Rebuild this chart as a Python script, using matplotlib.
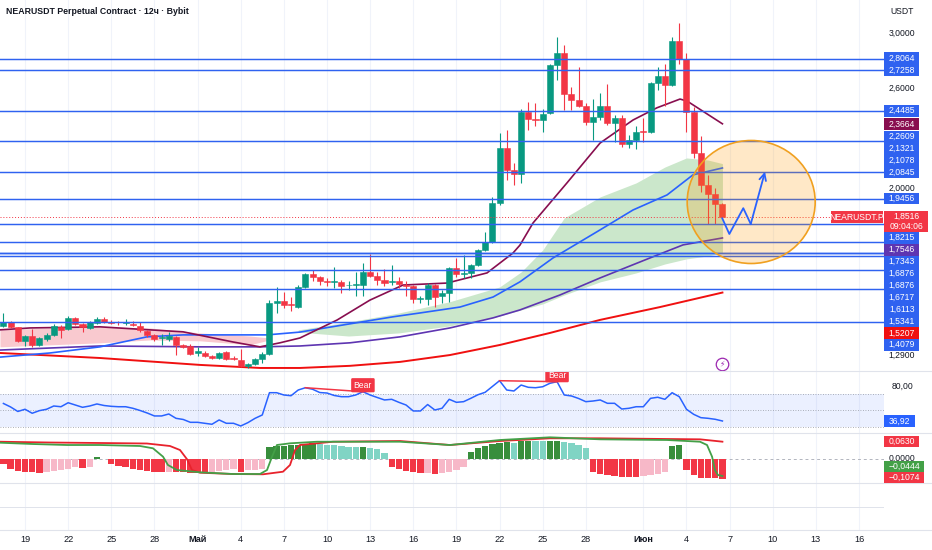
import numpy as np
import matplotlib
matplotlib.use("Agg")
import matplotlib.pyplot as plt
from matplotlib.patches import Rectangle, Ellipse
from matplotlib.lines import Line2D
import matplotlib.transforms as mtransforms

plt.rcParams['font.family'] = ['Liberation Sans', 'DejaVu Sans']

# ------------------------------------------------------------------ data
TITLE = "NEARUSDT Perpetual Contract · 12ч · Bybit"
SYMBOL = "NEARUSDT.P"
COUNTDOWN = "09:04:06"
CURRENCY = "USDT"

# 12h candles, day offsets counted from 19 April (first bar at -1.5)
first_bar_day = -1.5
opens = [1.394, 1.409, 1.388, 1.341, 1.357, 1.327, 1.345, 1.361, 1.391, 1.381,
         1.422, 1.400, 1.385, 1.405, 1.418, 1.409, 1.409, 1.405, 1.402, 1.394,
         1.375, 1.361, 1.350, 1.345, 1.353, 1.325, 1.322, 1.298, 1.298, 1.289,
         1.281, 1.300, 1.281, 1.273, 1.253, 1.262, 1.278, 1.295, 1.480, 1.486,
         1.475, 1.465, 1.544, 1.596, 1.585, 1.566, 1.563, 1.563, 1.550, 1.550,
         1.553, 1.606, 1.589, 1.572, 1.562, 1.569, 1.553, 1.547, 1.494, 1.495,
         1.551, 1.507, 1.520, 1.620, 1.596, 1.602, 1.636, 1.700, 1.737, 1.923,
         2.221, 2.097, 2.075, 2.441, 2.398, 2.390, 2.435, 2.760, 2.847, 2.556,
         2.519, 2.480, 2.378, 2.410, 2.478, 2.370, 2.405, 2.246, 2.268, 2.322,
         2.316, 2.634, 2.680, 2.620, 2.943, 2.807, 2.441, 2.194, 2.015, 1.969,
         1.918]
highs = [1.440, 1.412, 1.390, 1.360, 1.382, 1.352, 1.368, 1.400, 1.395, 1.430,
         1.428, 1.403, 1.412, 1.425, 1.428, 1.415, 1.412, 1.418, 1.410, 1.409,
         1.378, 1.365, 1.365, 1.370, 1.357, 1.330, 1.328, 1.319, 1.305, 1.292,
         1.302, 1.305, 1.289, 1.310, 1.265, 1.282, 1.300, 1.490, 1.541, 1.524,
         1.504, 1.550, 1.600, 1.613, 1.590, 1.579, 1.627, 1.572, 1.566, 1.603,
         1.645, 1.683, 1.606, 1.616, 1.633, 1.585, 1.566, 1.550, 1.507, 1.560,
         1.555, 1.531, 1.625, 1.666, 1.677, 1.640, 1.705, 1.783, 1.955, 2.308,
         2.329, 2.135, 2.462, 2.508, 2.502, 2.462, 2.770, 2.969, 2.909, 2.605,
         2.745, 2.497, 2.524, 2.563, 2.630, 2.420, 2.423, 2.297, 2.350, 2.400,
         2.640, 2.743, 2.770, 2.974, 3.080, 2.850, 2.470, 2.291, 2.070, 2.000,
         1.925]
lows = [1.390, 1.385, 1.335, 1.322, 1.320, 1.322, 1.340, 1.358, 1.350, 1.378,
        1.397, 1.370, 1.382, 1.402, 1.405, 1.400, 1.398, 1.398, 1.392, 1.372,
        1.355, 1.340, 1.327, 1.340, 1.290, 1.315, 1.290, 1.287, 1.285, 1.277,
        1.278, 1.274, 1.275, 1.250, 1.248, 1.258, 1.265, 1.290, 1.440, 1.459,
        1.450, 1.460, 1.540, 1.566, 1.553, 1.547, 1.540, 1.518, 1.531, 1.507,
        1.507, 1.585, 1.553, 1.547, 1.553, 1.540, 1.507, 1.478, 1.478, 1.472,
        1.466, 1.478, 1.484, 1.585, 1.579, 1.579, 1.630, 1.695, 1.730, 1.915,
        2.043, 2.015, 2.025, 2.329, 2.350, 2.318, 2.430, 2.654, 2.454, 2.454,
        2.470, 2.360, 2.271, 2.390, 2.360, 2.255, 2.225, 2.220, 2.215, 2.255,
        2.310, 2.586, 2.480, 2.610, 2.770, 2.318, 2.166, 1.980, 1.820, 1.820,
        1.845]
closes = [1.409, 1.391, 1.341, 1.357, 1.325, 1.349, 1.361, 1.394, 1.379, 1.421,
          1.400, 1.388, 1.407, 1.418, 1.408, 1.405, 1.406, 1.409, 1.395, 1.377,
          1.361, 1.345, 1.353, 1.357, 1.325, 1.319, 1.294, 1.304, 1.289, 1.281,
          1.298, 1.278, 1.278, 1.253, 1.261, 1.278, 1.295, 1.480, 1.486, 1.472,
          1.470, 1.544, 1.596, 1.585, 1.566, 1.563, 1.566, 1.547, 1.553, 1.554,
          1.606, 1.588, 1.572, 1.559, 1.569, 1.556, 1.547, 1.494, 1.498, 1.553,
          1.505, 1.518, 1.620, 1.596, 1.602, 1.636, 1.700, 1.737, 1.923, 2.221,
          2.097, 2.075, 2.441, 2.394, 2.390, 2.430, 2.760, 2.847, 2.556, 2.519,
          2.480, 2.378, 2.410, 2.478, 2.370, 2.405, 2.246, 2.268, 2.316, 2.314,
          2.634, 2.680, 2.620, 2.943, 2.807, 2.441, 2.194, 2.015, 1.969, 1.918,
          1.8516]

# horizontal levels drawn on the chart
levels = [2.8064, 2.7258, 2.4485, 2.2609, 2.0845, 1.9456, 1.8215,
          1.7343, 1.6876, 1.6876, 1.6717, 1.6113, 1.5341, 1.4079]

# moving averages (day offset, price)
maroon_days = [-1.74, 0.35, 5.22, 8.69, 10.99, 14.46, 16.34, 17.73, 19.12, 21.70, 23.99,
               26.29, 29.35, 32.13, 33.94, 34.42, 35.33, 37.69, 39.99, 42.28, 43.95,
               45.55, 46.04, 48.5]
maroon_vals = [1.379, 1.386, 1.390, 1.379, 1.372, 1.336, 1.319, 1.333, 1.350, 1.415, 1.491,
               1.551, 1.559, 1.601, 1.687, 1.722, 1.825, 2.027, 2.250, 2.390, 2.468,
               2.525, 2.512, 2.3664]
blue_days = [-1.74, 1.74, 5.22, 8.48, 10.99, 14.46, 16.83, 19.12, 22.60, 25.59, 27.47,
             30.25, 32.55, 34.42, 36.72, 39.99, 42.28, 44.65, 46.45, 48.5]
blue_vals = [1.284, 1.298, 1.319, 1.354, 1.361, 1.361, 1.361, 1.371, 1.401, 1.427, 1.4415,
             1.464, 1.503, 1.564, 1.665, 1.792, 1.888, 1.964, 2.070, 2.1078]
purple_days = [-1.74, 5.22, 12.17, 16.34, 19.12, 22.60, 26.08, 29.55, 32.55, 34.42,
               37.20, 39.99, 43.46, 45.76, 48.5]
purple_vals = [1.308, 1.322, 1.319, 1.319, 1.322, 1.333, 1.354, 1.386, 1.423, 1.453,
               1.511, 1.580, 1.665, 1.723, 1.7546]
red_days = [-1.74, 5.22, 12.17, 16.34, 19.12, 22.60, 26.08, 29.55, 33.03, 36.51,
            39.99, 44.16, 48.5]
red_vals = [1.298, 1.281, 1.258, 1.248, 1.248, 1.255, 1.268, 1.291, 1.3256, 1.368,
            1.4155, 1.464, 1.5207]

# shaded clouds
pink_days = [-1.74, 1.74, 5.22, 8.69, 12.17, 15.64, 17.0]
pink_upper = [1.379, 1.386, 1.390, 1.386, 1.368, 1.357, 1.350]
pink_lower = [1.319, 1.326, 1.333, 1.343, 1.340, 1.326, 1.343]
green_days = [19.0, 22.5, 26.0, 29.5, 33.0, 34.5, 36.0, 37.5, 40.0, 42.5, 44.5, 46.0, 47.5, 48.5]
green_upper = [1.379, 1.408, 1.4415, 1.484, 1.543, 1.605, 1.700, 1.849, 1.954, 2.027,
               2.113, 2.164, 2.152, 2.1321]
green_lower = [1.371, 1.357, 1.368, 1.393, 1.430, 1.453, 1.476, 1.511, 1.564, 1.601,
               1.639, 1.661, 1.674, 1.687]

# forecast drawing: circle + zig-zag arrow
circle_center = (50.5, 1.928)
path_days = [48.49, 48.98, 49.95, 50.47, 51.46]
path_prices = [1.847, 1.773, 1.897, 1.820, 2.087]

# RSI (one value per bar)
rsi = [58.4, 54.1, 48.6, 51.3, 46.4, 49.6, 51.3, 55.3, 54.4, 59.3,
       56.5, 53.7, 55.3, 57.8, 55.9, 54.9, 54.4, 54.4, 52.5, 49.8,
       46.7, 43.1, 43.1, 45.5, 40.2, 38.8, 35.3, 35.3, 34.1, 32.9,
       38.2, 34.1, 34.1, 30.8, 34.9, 40.2, 44.3, 71.6, 71.6, 68.8,
       67.9, 74.9, 77.7, 75.8, 71.8, 71.2, 68.2, 66.7, 66.7, 68.8,
       72.8, 68.8, 65.7, 62.7, 63.5, 59.8, 56.5, 49.2, 49.2, 57.1,
       50.4, 52.5, 63.5, 59.8, 60.6, 64.7, 69.1, 72.1, 79.2, 86.3,
       74.9, 73.7, 81.0, 78.2, 77.7, 78.9, 83.1, 85.1, 68.8, 67.6,
       64.5, 60.6, 61.4, 62.7, 58.6, 58.6, 51.6, 52.5, 54.4, 54.4,
       64.7, 66.0, 63.5, 71.6, 66.7, 51.3, 45.1, 41.0, 40.2, 39.0,
       36.92]
bear_pairs = [(19.5, 23.5), (33.0, 37.0)]

# MACD-style histogram (one value per bar)
hist = [-0.028, -0.051, -0.066, -0.070, -0.073, -0.075, -0.070, -0.064, -0.060, -0.051,
        -0.045, -0.047, -0.041, 0.015, 0.004, -0.028, -0.036, -0.041, -0.055, -0.060,
        -0.066, -0.070, -0.071, -0.068, -0.070, -0.073, -0.074, -0.075, -0.076, -0.070,
        -0.064, -0.057, -0.051, -0.070, -0.060, -0.057, -0.051, 0.072, 0.075, 0.076,
        0.079, 0.083, 0.087, 0.090, 0.087, 0.083, 0.081, 0.077, 0.072, 0.068,
        0.070, 0.064, 0.056, 0.034, -0.041, -0.055, -0.064, -0.070, -0.075, -0.074,
        -0.080, -0.075, -0.070, -0.060, -0.041, 0.043, 0.062, 0.075, 0.087, 0.094,
        0.100, 0.094, 0.104, 0.105, 0.103, 0.102, 0.104, 0.105, 0.100, 0.090,
        0.081, 0.062, -0.070, -0.079, -0.089, -0.094, -0.098, -0.099, -0.100, -0.094,
        -0.089, -0.083, -0.070, 0.075, 0.079, -0.060, -0.089, -0.102, -0.104, -0.106,
        -0.1074]
# two oscillator lines of the lower pane
osc_red_days = [-1.74, 1.74, 5.22, 8.48, 10.08, 10.78, 11.27, 11.61, 12.17, 14.46, 16.55,
                17.94, 18.43, 18.78, 19.12, 21.42, 26.08, 29.55, 33.03, 36.51, 39.99,
                44.65, 46.94, 48.5]
osc_red = [0.0629, 0.0604, 0.0589, 0.0573, 0.0495, 0.0369, 0.0078, -0.0257, -0.0341,
           -0.0382, -0.0391, -0.0310, -0.0100, 0.0369, 0.0526, 0.0629, 0.0651, 0.0526,
           0.0651, 0.0736, 0.0736, 0.0714, 0.0704, 0.0630]
osc_green_days = [-1.74, 0.56, 2.92, 5.22, 8.0, 8.9, 9.6, 9.94, 10.57, 12.17, 14.46, 16.34,
                  16.83, 17.18, 17.52, 18.43, 20.31, 26.08, 29.55, 33.03, 36.51, 39.99,
                  44.65, 46.94, 47.43, 47.78, 47.98, 48.19, 48.5]
osc_green = [0.0598, 0.0557, 0.0526, 0.0526, 0.0495, 0.0423, 0.0160, -0.0100, -0.0257,
             -0.0329, -0.0382, -0.0382, -0.0257, 0.0160, 0.0526, 0.0579, 0.0629, 0.0629,
             0.0526, 0.0683, 0.0767, 0.0704, 0.0683, 0.0629, 0.0526, 0.0160, -0.0257,
             -0.0413, -0.0444]

# date axis
tick_days = [0, 3, 6, 9, 12, 15, 18, 21, 24, 27, 30, 33, 36, 39, 43, 46, 49, 52, 55, 58]
tick_labels = ['19', '22', '25', '28', 'Май', '4', '7', '10', '13', '16',
               '19', '22', '25', '28', 'Июн', '4', '7', '10', '13', '16']
month_labels = {'Май', 'Июн'}
price_ticks = [3.0, 2.6, 2.0, 1.29]

# ------------------------------------------------------------------ style
W, H = 932, 550
PLOT_R = 884
XMIN, XMAX = -1.7385, 59.736
PRICE_LIM = (1.2381, 3.2735)
RSI_LIM = (22.2, 98.2)
HIST_LIM = (-0.1282, 0.1486)
OSC_LIM = (-0.0632, 0.0902)

UP, DOWN = '#089981', '#f23645'
LEVEL_C = '#2f62f0'
MAROON, BLUE, PURPLE, RED200 = '#880e4f', '#2962ff', '#5e35b1', '#f01010'
TXT = '#131722'
GRID = '#f0f3fa'
SEP = '#e0e3eb'
FS = 6.2

fig = plt.figure(figsize=(W / 100, H / 100), dpi=100)
fig.patch.set_facecolor('white')


def fx(px):
    return px / W


def fy(py):
    return 1 - py / H


ax = fig.add_axes([0, fy(371), PLOT_R / W, 371 / H])
ax_rsi = fig.add_axes([0, fy(433), PLOT_R / W, 62 / H])
ax_macd = fig.add_axes([0, fy(483), PLOT_R / W, 50 / H])
ax_osc = fig.add_axes([0, fy(483), PLOT_R / W, 50 / H])
ax_osc.patch.set_alpha(0)
ax_empty = fig.add_axes([0, fy(530), PLOT_R / W, 47 / H])

for a in (ax, ax_rsi, ax_macd, ax_osc, ax_empty):
    a.set_xlim(XMIN, XMAX)
    a.set_axis_off()
ax.set_yscale('log')
ax.set_ylim(*PRICE_LIM)
ax_rsi.set_ylim(*RSI_LIM)
ax_macd.set_ylim(HIST_LIM[0] - 0.7 / 177, HIST_LIM[1])
ax_osc.set_ylim(OSC_LIM[0] - 1.0 / 319, OSC_LIM[1])
ax_empty.set_ylim(0, 1)

for a in (ax, ax_rsi, ax_macd, ax_empty):
    for d in tick_days:
        a.axvline(d, color=GRID, lw=0.8, zorder=0)

# ------------------------------------------------------------------ main pane
bar_days = first_bar_day + 0.5 * np.arange(len(opens))
o = np.array(opens); c = np.array(closes); hi = np.array(highs); lo = np.array(lows)

ax.fill_between(pink_days, pink_lower, pink_upper, color='#f9c9cf', lw=0, zorder=1)
ax.fill_between(green_days, green_lower, green_upper, color='#cbe7cb', lw=0, zorder=1)

ax.plot(red_days, red_vals, color=RED200, lw=1.4, zorder=2)
ax.plot(purple_days, purple_vals, color=PURPLE, lw=1.2, zorder=2)
ax.plot(blue_days, blue_vals, color=BLUE, lw=1.2, zorder=2)
ax.plot(maroon_days, maroon_vals, color=MAROON, lw=1.2, zorder=2)

cols = np.where(c >= o, UP, DOWN)
ax.vlines(bar_days, lo, hi, colors=cols, lw=0.8, zorder=3)
bot = np.minimum(o, c); top = np.maximum(o, c)
ax.bar(bar_days, top - bot, bottom=bot, width=0.42, color=cols, edgecolor=cols,
       linewidth=0.4, zorder=3.1)

for lv in levels:
    ax.axhline(lv, color=LEVEL_C, lw=1.05, zorder=4)
ax.axhline(closes[-1], color=DOWN, lw=0.7, ls=(0, (1, 2)), zorder=4)

# forecast circle (pixel sized, anchored on data point)
cxd, cyd = ax.transData.transform(circle_center)
ax.add_artist(Ellipse((cxd, cyd), width=128, height=123, transform=mtransforms.IdentityTransform(),
                      facecolor=(1, 0.596, 0, 0.22), edgecolor='#f0a020', lw=1.2, zorder=5))
ax.plot(path_days[:-1], path_prices[:-1], color=BLUE, lw=1.3, zorder=6)
ax.annotate('', xy=(path_days[-1], path_prices[-1]), xytext=(path_days[-2], path_prices[-2]),
            arrowprops=dict(arrowstyle='->', color=BLUE, lw=1.3, shrinkA=0, shrinkB=0,
                            mutation_scale=12), zorder=6)

# event icon at last bar
bt = mtransforms.blended_transform_factory(ax.transData, ax.transAxes)
ax.plot([bar_days[-1]], [0.019], marker='o', ms=9, mfc='white', mec='#9c27b0', mew=0.9,
        transform=bt, clip_on=False, zorder=8)
ax.text(bar_days[-1], 0.019, '⚡', transform=bt, ha='center', va='center', fontsize=5.5,
        color='#9c27b0', family=['DejaVu Sans'], clip_on=False, zorder=9)

# ------------------------------------------------------------------ RSI pane
ax_rsi.fill_between([XMIN, XMAX], 30, 70, color='#2962ff', alpha=0.09, lw=0, zorder=1)
for lvl in (70, 50, 30):
    ax_rsi.axhline(lvl, color='#9598a1', lw=0.6, ls=(0, (1, 2)), zorder=1)
ax_rsi.plot(bar_days, rsi, color=BLUE, lw=1.1, zorder=3)
rsi_arr = np.array(rsi)
for d0, d1 in bear_pairs:
    r0 = rsi_arr[np.argmin(np.abs(bar_days - d0))]
    r1 = rsi_arr[np.argmin(np.abs(bar_days - d1))]
    ax_rsi.plot([d0, d1], [r0, r1], color=DOWN, lw=1.1, zorder=3)
    ax_rsi.annotate('Bear', xy=(d1, r1), xytext=(0, 2), textcoords='offset pixels',
                    ha='center', va='bottom', color='white', fontsize=FS,
                    bbox=dict(boxstyle='round,pad=0.3,rounding_size=0.15', fc=DOWN, ec='none'),
                    clip_on=True, zorder=4)

# ------------------------------------------------------------------ histogram pane
hcols = []
for i, v in enumerate(hist):
    prev = hist[i - 1] if i > 0 else v
    if v >= 0:
        hcols.append('#388e3c' if v >= prev else '#80d4c4')
    else:
        hcols.append(DOWN if v <= prev else '#f7b8c8')
ax_macd.bar(bar_days, hist, width=0.44, color=hcols, lw=0, zorder=2)
ax_macd.axhline(0, color='#b2b5be', lw=0.7, ls=(0, (3, 3)), zorder=1)
ax_osc.plot(osc_red_days, osc_red, color='#e8222c', lw=1.3, zorder=3)
ax_osc.plot(osc_green_days, osc_green, color='#43a047', lw=1.3, zorder=3)
ax_empty.axhline(0.5, color=SEP, lw=0.7)

# ------------------------------------------------------------------ separators
for yy in (371, 433, 483, 530):
    fig.add_artist(Line2D([0, 1], [fy(yy), fy(yy)], transform=fig.transFigure, color=SEP, lw=0.8))


# ------------------------------------------------------------------ right scale labels
def py_of(axis, v):
    return H - axis.transData.transform((0, v))[1]


def fmt(v, n=4):
    return f"{v:.{n}f}".replace('.', ',').replace('-', '\u2212')


def push_from_anchor(desired, anchor_top, anchor_bottom, h):
    """Labels above the anchor are pushed up, labels below pushed down."""
    centers = [0.0] * len(desired)
    above = sorted([i for i, y in enumerate(desired) if y < (anchor_top + anchor_bottom) / 2],
                   key=lambda i: -desired[i])
    below = sorted([i for i, y in enumerate(desired) if y >= (anchor_top + anchor_bottom) / 2],
                   key=lambda i: desired[i])
    limit = anchor_top
    for i in above:
        centers[i] = min(desired[i], limit - h / 2)
        limit = centers[i] - h / 2
    limit = anchor_bottom
    for i in below:
        centers[i] = max(desired[i], limit + h / 2)
        limit = centers[i] + h / 2
    return centers


BX0 = 884.3
LH = 11.9


def box(yc, h, color, lines):
    w = 4.5 * max(len(s) for s in lines) + 8
    fig.add_artist(Rectangle((fx(BX0), fy(yc + h / 2)), fx(BX0 + w) - fx(BX0), h / H,
                             transform=fig.transFigure, facecolor=color, edgecolor='none', zorder=10))
    n = len(lines)
    for k, s in enumerate(lines):
        yy = yc + (k - (n - 1) / 2) * 9.6
        fig.text(fx(BX0 + w / 2), fy(yy), s, color='white', ha='center', va='center',
                 fontsize=FS, zorder=11)


def plain(y, s):
    fig.text(fx(902), fy(y), s, color=TXT, ha='center', va='center', fontsize=FS, zorder=9)


fig.text(fx(902), fy(12), CURRENCY, color=TXT, ha='center', va='center', fontsize=FS)
for p in price_ticks:
    plain(py_of(ax, p), fmt(p))

main_labels = [(lv, LEVEL_C) for lv in levels]
main_labels += [(maroon_vals[-1], MAROON), (green_upper[-1], LEVEL_C), (blue_vals[-1], LEVEL_C),
                (purple_vals[-1], PURPLE), (red_vals[-1], RED200)]
last_py = py_of(ax, closes[-1])
PH = 20.5
p_top, p_bot = last_py - 6.2, last_py - 6.2 + PH
centers = push_from_anchor([py_of(ax, v) for v, _ in main_labels], p_top, p_bot, LH)
for (v, col), yc in zip(main_labels, centers):
    box(yc, LH, col, [fmt(v)])
box((p_top + p_bot) / 2, PH, DOWN, [fmt(closes[-1]), COUNTDOWN])
# symbol tag next to the price label
fig.add_artist(Rectangle((fx(831), fy(last_py + LH / 2)), fx(883) - fx(831), LH / H,
                         transform=fig.transFigure, facecolor=DOWN, edgecolor='none', zorder=10))
fig.text(fx(857), fy(last_py), SYMBOL, color='white', ha='center', va='center', fontsize=FS, zorder=11)

# RSI labels
plain(py_of(ax_rsi, 80), fmt(80, 2))
box(py_of(ax_rsi, rsi[-1]), LH, BLUE, [fmt(rsi[-1], 2)])

# lower pane labels (stacked upward from the pane bottom)
plain(py_of(ax_macd, 0) - 1.5, fmt(0))
low_labels = [(osc_red[-1], py_of(ax_osc, osc_red[-1]), DOWN),
              (osc_green[-1], py_of(ax_osc, osc_green[-1]), '#43a047'),
              (hist[-1], py_of(ax_macd, hist[-1]), DOWN)]
low_centers = push_from_anchor([p for _, p, _ in low_labels], 483.0, 490.0, 11.0)
for (v, _, col), yc in zip(low_labels, low_centers):
    box(yc, 11.0, col, [fmt(v)])

# ------------------------------------------------------------------ date axis & title
tx = mtransforms.blended_transform_factory(ax.transData, fig.transFigure)
for d, s in zip(tick_days, tick_labels):
    fig.text(d, fy(540), s, transform=tx, ha='center', va='center', fontsize=6.6, color=TXT,
             fontweight='bold' if s in month_labels else 'normal')

fig.text(fx(6), fy(11), TITLE, ha='left', va='center', fontsize=6.3, color=TXT, fontweight='bold')

fig.savefig('out.png', dpi=100, facecolor='white')
